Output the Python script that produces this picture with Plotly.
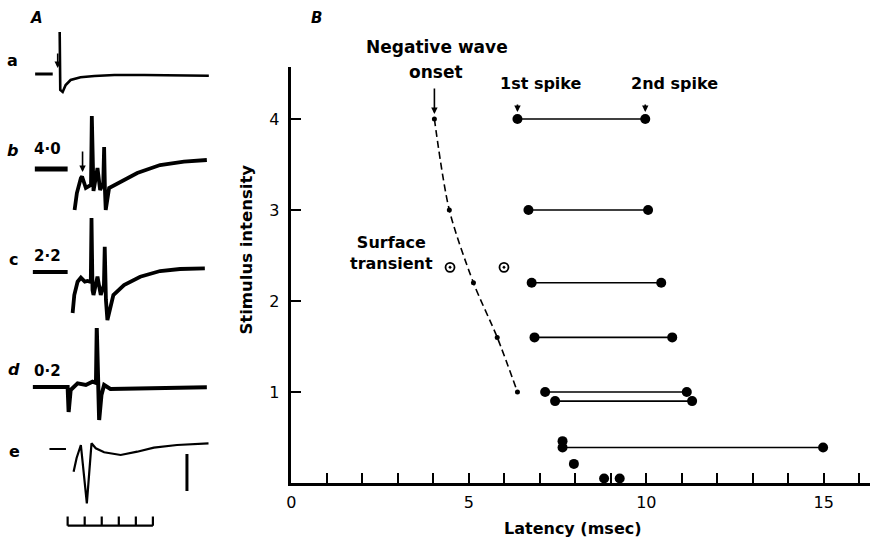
import plotly.graph_objects as go

W, H = 875, 545

# ---------------- Panel B data (latency in msec, stimulus intensity) ----------------
onset_latency = [4.03, 4.45, 5.13, 5.80, 6.37]
onset_intensity = [4.0, 3.0, 2.2, 1.6, 1.0]

transient_latency = [4.47, 5.99]
transient_intensity = [2.37, 2.37]

pair_intensity = [4.0, 3.0, 2.2, 1.6, 1.0, 0.9, 0.39]
first_spike = [6.37, 6.68, 6.77, 6.85, 7.15, 7.43, 7.64]
second_spike = [9.97, 10.05, 10.42, 10.73, 11.14, 11.29, 14.98]

single_latency = [7.64, 7.96, 8.81, 9.25]
single_intensity = [0.46, 0.21, 0.05, 0.05]

x_tick_values = list(range(0, 17))
x_tick_labels = [str(v) if v % 5 == 0 else "" for v in x_tick_values]
y_tick_values = [1, 2, 3, 4]
y_tick_labels = ["1", "2", "3", "4"]

# ---------------- Panel A data (time in msec, amplitude in arbitrary units) ----------------
trace_a_stub_t = [-10.26, -5.10]
trace_a_stub_v = [1, 1]
trace_a_t = [-3.06, -2.89, -2.19, -1.31, 0.15, 3.06, 7.14, 12.97, 21.72, 31.34, 40.67]
trace_a_v = [43, -15, -17, -10, -5, -2.3, -1, 0, 0, -0.7, -0.7]

trace_b_stub_t = [-10.35, -0.73]
trace_b_stub_v = [0, 0]
trace_b_t = [1.31, 1.98, 3.15, 3.50, 4.61, 6.12, 6.36, 6.85, 8.02, 8.80, 9.72, 9.97, 10.2, 10.44,
             11.43, 14.72, 19.68, 26.38, 33.38, 40.09]
trace_b_v = [-41, -24, -9, -7.5, -19, -16, 53, -22, 1, -21, -14, 22, -20, -41,
             -19, -12.7, -4, 4, 7.3, 9]

trace_c_stub_t = [-10.93, -0.73]
trace_c_stub_v = [0, 0]
trace_c_t = [0.73, 1.22, 2.19, 3.15, 4.31, 5.10, 6.06, 6.27, 6.56, 6.85, 8.02, 8.98, 9.91, 10.15,
             10.50, 10.93, 12.68, 15.80, 20.55, 26.38, 32.22, 39.50]
trace_c_v = [-41, -23, -9.7, -5.7, -9.7, -9, -10, 54, -18, -23, -4.7, -23, -13, 25.3,
             -28, -48, -23, -13, -4.7, 1, 3, 3.7]

trace_d_t = [-10.93, -0.73, -0.44, 0.15, 2.19, 4.61, 6.56, 7.58, 7.81, 8.10, 8.51, 9.18, 9.97,
             11.81, 24.05, 40.09]
trace_d_v = [0, 0, -25, -3, 3.7, 2, 5.3, 4, 59, 2, -33, -8, 2, -2, -1, -0.3]

trace_e_stub_t = [-6.06, -1.22]
trace_e_stub_v = [0, 0]
trace_e_t = [1.02, 1.90, 3.15, 4.90, 6.27, 7.52, 9.97, 14.81, 19.68, 24.55, 31.34, 40.58]
trace_e_v = [-22.7, -9, 4, -54.3, 5.7, 0.7, -3.3, -6, -2.7, 1.3, 4, 5.7]

calibration_amplitude = 37          # vertical calibration bar height (arb. units)
time_scale_ticks = [0, 5, 10, 15, 20, 25]  # msec

intensity_labels = ["4·0", "2·2", "0·2"]

# ---------------- layout helpers (positions only) ----------------
A_PX_PER_MS = 3.43
A_ORIGIN_PX = 67.5
A_SHIFT = -2          # horizontal pixel shift of panel A
BASE = {"a": 75, "b": 169, "c": 272, "d": 387, "e": 449}


def px(x):
    return x / W


def py(y):
    return 1 - y / H


FONT = "DejaVu Sans"
fig = go.Figure()

# ---------------- Panel A traces ----------------
def add_trace_a(t, v, base, width):
    fig.add_trace(go.Scatter(
        x=t, y=[val - base for val in v], xaxis="x2", yaxis="y2", mode="lines",
        line=dict(color="black", width=width), hoverinfo="skip"))


add_trace_a(trace_a_stub_t, trace_a_stub_v, BASE["a"], 3)
add_trace_a(trace_a_t, trace_a_v, BASE["a"], 2.6)
add_trace_a(trace_b_stub_t, trace_b_stub_v, BASE["b"], 5)
add_trace_a(trace_b_t, trace_b_v, BASE["b"], 3.8)
add_trace_a(trace_c_stub_t, trace_c_stub_v, BASE["c"], 4)
add_trace_a(trace_c_t, trace_c_v, BASE["c"], 3.8)
add_trace_a(trace_d_t, trace_d_v, BASE["d"], 4)
add_trace_a(trace_e_stub_t, trace_e_stub_v, BASE["e"], 2)
add_trace_a(trace_e_t, trace_e_v, BASE["e"], 2.2)

# calibration bar
cal_t = (185 - A_ORIGIN_PX) / A_PX_PER_MS
fig.add_trace(go.Scatter(
    x=[cal_t, cal_t], y=[-454, -454 - calibration_amplitude], xaxis="x2", yaxis="y2",
    mode="lines", line=dict(color="black", width=3), hoverinfo="skip"))

# time scale bar
ts0 = (65 - A_ORIGIN_PX) / A_PX_PER_MS
sx, sy = [], []
for tk in time_scale_ticks:
    sx += [ts0 + tk, ts0 + tk, None]
    sy += [-525.7, -516.5, None]
sx += [ts0 + time_scale_ticks[0], ts0 + time_scale_ticks[-1]]
sy += [-525.7, -525.7]
fig.add_trace(go.Scatter(x=sx, y=sy, xaxis="x2", yaxis="y2", mode="lines",
                         line=dict(color="black", width=2.2), hoverinfo="skip"))

# ---------------- Panel B ----------------
fig.add_trace(go.Scatter(
    x=onset_latency, y=onset_intensity, mode="lines+markers",
    line=dict(color="black", width=1.6, dash="7px,4px", shape="spline", smoothing=0.8),
    marker=dict(color="black", size=5), cliponaxis=False, hoverinfo="skip"))

lx, ly = [], []
for f, s, yv in zip(first_spike, second_spike, pair_intensity):
    lx += [f, s, None]
    ly += [yv, yv, None]
fig.add_trace(go.Scatter(
    x=lx, y=ly, mode="lines+markers", line=dict(color="black", width=1.6),
    marker=dict(color="black", size=10), cliponaxis=False, hoverinfo="skip"))

fig.add_trace(go.Scatter(
    x=single_latency, y=single_intensity, mode="markers",
    marker=dict(color="black", size=10), cliponaxis=False, hoverinfo="skip"))

fig.add_trace(go.Scatter(
    x=transient_latency, y=transient_intensity, mode="markers",
    marker=dict(symbol="circle-dot", color="white", size=9,
                line=dict(color="black", width=1.8)),
    cliponaxis=False, hoverinfo="skip"))

ann = []


def text(x, y, s, size=16, bold=True, italic=False, align="center", xanchor="center", angle=0):
    t = s
    if bold:
        t = "<b>" + t + "</b>"
    if italic:
        t = "<i>" + t + "</i>"
    ann.append(dict(x=px(x), y=py(y), xref="paper", yref="paper", text=t, showarrow=False,
                    xanchor=xanchor, yanchor="middle", align=align, textangle=angle,
                    font=dict(family=FONT, size=size, color="black")))


# panel labels
text(34 + A_SHIFT, 18, "A", size=15, italic=True)
text(313, 18, "B", size=15, italic=True)
# trace labels
text(10 + A_SHIFT, 61, "a", size=16)
text(10 + A_SHIFT, 150, "b", size=16, italic=True)
text(11 + A_SHIFT, 259, "c", size=16)
text(11 + A_SHIFT, 369, "d", size=16, italic=True)
text(12 + A_SHIFT, 451, "e", size=16)
text(45 + A_SHIFT, 149, intensity_labels[0], size=15)
text(45 + A_SHIFT, 256, intensity_labels[1], size=15)
text(45 + A_SHIFT, 371, intensity_labels[2], size=15)

# B annotations
text(434, 47, "Negative wave", size=17)
text(433, 72, "onset", size=17)
text(539, 83, "1st spike", size=16)
text(673, 83, "2nd spike", size=16)
text(389, 253, "Surface<br>transient", size=16)
text(242, 250, "Stimulus intensity", size=16.5, angle=-90)
text(571, 528, "Latency (msec)", size=16)

# arrows
def arrow(x, y, ay, xref="x", yref="y", standoff=0, size=0.8):
    ann.append(dict(x=x, y=y, xref=xref, yref=yref, ax=0, ay=ay, axref="pixel", ayref="pixel",
                    text="", showarrow=True, arrowhead=2, arrowsize=size, arrowwidth=1.6,
                    arrowcolor="black", standoff=standoff))


arrow(onset_latency[0], onset_intensity[0], -32, standoff=5)
arrow(first_spike[0], pair_intensity[0], -16, standoff=7)
arrow(second_spike[0], pair_intensity[0], -16, standoff=7)
arrow((55 - A_ORIGIN_PX) / A_PX_PER_MS, -68, -16, xref="x2", yref="y2")
arrow((80 - A_ORIGIN_PX) / A_PX_PER_MS, -172, -22, xref="x2", yref="y2")

axis_font = dict(family=FONT, size=16, color="black")
fig.update_layout(
    width=W, height=H, margin=dict(l=0, r=0, t=0, b=0),
    paper_bgcolor="white", plot_bgcolor="white", showlegend=False,
    annotations=ann,
    xaxis=dict(domain=[px(288), px(870)], range=[0, (870 - 288) / 35.7],
               showline=True, linecolor="black", linewidth=2.5, showgrid=False, zeroline=False,
               ticks="inside", ticklen=10, tickwidth=2, tickcolor="black",
               tickmode="array", tickvals=x_tick_values, ticktext=x_tick_labels,
               tickfont=axis_font, ticklabelstandoff=3),
    yaxis=dict(domain=[py(483), py(67)], range=[0, (483 - 67) / 91.0],
               showline=True, linecolor="black", linewidth=2.5, showgrid=False, zeroline=False,
               ticks="inside", ticklen=10, tickwidth=2, tickcolor="black",
               tickmode="array", tickvals=y_tick_values, ticktext=y_tick_labels,
               tickfont=axis_font, ticklabelstandoff=6),
    xaxis2=dict(domain=[0, px(220)],
                range=[(0 - A_ORIGIN_PX - A_SHIFT) / A_PX_PER_MS,
                       (220 - A_ORIGIN_PX - A_SHIFT) / A_PX_PER_MS],
                visible=False),
    yaxis2=dict(domain=[0, 1], range=[-H, 0], visible=False),
)

fig.write_html("out.html", post_script="document.body.style.margin='0';",
               config={"displayModeBar": False})
